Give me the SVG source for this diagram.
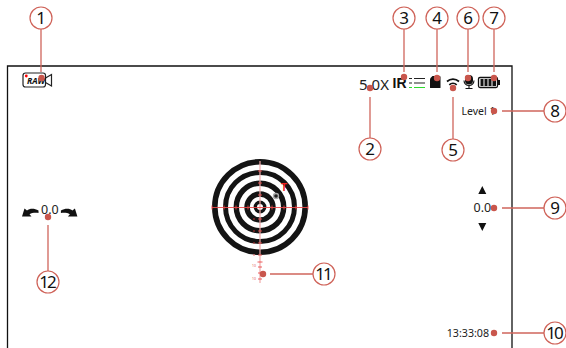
<svg xmlns="http://www.w3.org/2000/svg" width="566" height="348" viewBox="0 0 566 348">
<style>
.c{fill:#fff;stroke:#cf6258;stroke-width:1.2}
.n{font:17px "Noto Sans",Arial,sans-serif;fill:#111;text-anchor:middle}
.w{letter-spacing:-2px}
.l{stroke:#d0665c;stroke-width:1.3;fill:none}
.d{fill:#c9564c}
.t{font-family:"Noto Sans",Arial,sans-serif;fill:#222}
.r{fill:none;stroke:#141414}
.h{stroke:#ea4a4a;stroke-width:.9;fill:none}
.s{stroke:#f0a8a8;stroke-width:1.2;fill:none}
.k{fill:#111}
.m{font-family:"Noto Sans",sans-serif;font-size:3.5px;text-anchor:middle;fill:#e0605c}
</style>
<rect width="566" height="348" fill="#fff"/>
<path d="M7.500 348V66H512V348" fill="none" stroke="#111" stroke-width="1.300"/>
<g id="screen-icons">
<rect x="23" y="73" width="22.500" height="14" rx="2.500" fill="#fff" stroke="#222" stroke-width="1.200"/>
<path d="M45.500 78L51.500 74.500V86L45.500 82.500" fill="none" stroke="#222" stroke-width="1.200"/>
<circle cx="26.300" cy="76" r="1.400" fill="#f00"/>
<text x="27" y="84.300" font-size="8.500" font-weight="700" font-style="italic" class="t" style="fill:#111">RAW</text>
<text x="359" y="89.500" font-size="15" class="t">5.0X</text>
<text x="392.500" y="88" font-size="14" font-weight="700" font-family="Liberation Sans,sans-serif" fill="#111">IR</text>
<path d="M409 78.500h3M414 78.500h11M409 83h3M414 83h11" stroke="#222" stroke-width="1.200"/>
<path d="M409 87.500h3M414 87.500h11" stroke="#2ddc2d" stroke-width="1.200"/>
<path d="M430 79.500q0-1 1-2l1.500-1.500h7q1 0 1 1v10.500q0 .5-.5.500h-9.500q-.5 0-.5-.5z" class="k"/>
<path d="M447 81.500a9 9 0 0 1 12 0M449.300 84.800a5.500 5.500 0 0 1 7.400 0" fill="none" stroke="#111" stroke-width="1.700"/>
<circle cx="453" cy="88" r="1.500" class="k"/>
<rect x="465" y="75" width="8" height="9.500" rx="4" class="k"/>
<path d="M464 80.500a5 5 0 0 0 10 0M469 85.500v2.500M465.500 88.500h7" fill="none" stroke="#111" stroke-width="1.100"/>
<rect x="478.500" y="77.500" width="19" height="10" rx="1.500" fill="none" stroke="#111" stroke-width="1.300"/>
<path d="M480.500 79h3v7h-3zM484.500 79h3v7h-3zM488.500 79h3v7h-3zM492.500 79h3.500v7h-3.500zM498 80h2v5h-2z" class="k"/>
<text x="461.500" y="114.500" font-size="10.500" class="t">Level 1</text>
<path d="M482.300 186l4 8h-8zM482.300 231l-4-8h8z" class="k"/>
<text x="473.500" y="212" font-size="12.500" class="t">0.0</text>
<text x="446.700" y="336.700" font-size="10.700" class="t">13:33:08</text>
<text x="41" y="213.500" font-size="12.500" class="t">0.0</text>
<path d="M38.500 210.500C34 208 29.500 208.500 27 210.500L24.500 208.500L22 216.500H31.500L29.500 214.300C32 212.800 35 212.500 38.500 213Z" class="k"/>
<path d="M60.900 210.500C65.400 208 69.900 208.500 72.400 210.500L74.900 208.500L77.400 216.500H67.900L69.900 214.300C67.400 212.800 64.400 212.500 60.900 213Z" class="k"/>
</g>
<g id="target">
<circle cx="260" cy="207" r="48" fill="#fff"/>
<circle cx="260" cy="207" r="45.200" class="r" stroke-width="5.600"/>
<circle cx="260" cy="207" r="34.500" class="r" stroke-width="5"/>
<circle cx="260" cy="207" r="23.700" class="r" stroke-width="5.400"/>
<circle cx="260" cy="207" r="13" class="r" stroke-width="5.400"/>
<circle cx="260" cy="207" r="4.700" class="r" stroke-width="3.400"/>
<circle cx="276" cy="196" r="2.500" fill="#222" stroke="#aaa" stroke-width="1.400"/>
<text x="284" y="191" font-size="10" font-weight="700" text-anchor="middle" font-family="Liberation Sans,sans-serif" fill="#f02020">T</text>
<path d="M260 161V283" class="s"/>
<path d="M212 207.500H308" class="h"/>
<path d="M212 205.500v4M224 205.500v4M236 205.500v4M248 205.500v4M272 205.500v4M284 205.500v4M296 205.500v4M308 205.500v4" class="h"/>
<path d="M258 171h4M258 183h4M258 195h4M258 219h4M258 231h4M258 243h4M258 255h4M257.500 262h5M258 267h4M258 273h4M258 279h4" class="h"/>
<circle cx="254" cy="219" r=".8" fill="#c33"/><circle cx="254" cy="231" r=".8" fill="#c33"/><circle cx="254" cy="243" r=".8" fill="#c33"/><circle cx="254" cy="255" r=".8" fill="#e66"/>
<text class="m" x="254" y="267">10</text>
<text class="m" x="254" y="280">10</text>
</g>
<g id="connectors">
<path class="l" d="M41 29V72M370 97V138M404 29V72M437 29V72M468 29V72M494 29V72M453 97V139M502 111H544M502 208H544M502 333H544M270 274H313M48 225V271"/>
</g>
<g id="dots">
<circle class="d" cx="41.500" cy="78" r="3.200"/><circle class="d" cx="370" cy="88" r="3.200"/><circle class="d" cx="404" cy="77" r="3.200"/><circle class="d" cx="437" cy="78" r="3.200"/><circle class="d" cx="453" cy="88" r="3.200"/><circle class="d" cx="468" cy="78" r="3.200"/><circle class="d" cx="494" cy="78" r="3.200"/><circle class="d" cx="494" cy="111" r="3.200"/><circle class="d" cx="494" cy="208" r="3.200"/><circle class="d" cx="494" cy="333" r="3.200"/><circle class="d" cx="263" cy="274" r="3.200"/><circle class="d" cx="48" cy="217" r="3.200"/>
</g>
<g id="n1"><circle class="c" cx="41" cy="18" r="11"/><text class="n" x="41" y="24">1</text></g>
<g id="n2"><circle class="c" cx="370" cy="149" r="11"/><text class="n" x="370" y="155">2</text></g>
<g id="n3"><circle class="c" cx="404" cy="18" r="11"/><text class="n" x="404" y="24">3</text></g>
<g id="n4"><circle class="c" cx="437" cy="18" r="11"/><text class="n" x="437" y="24">4</text></g>
<g id="n5"><circle class="c" cx="453" cy="150" r="11"/><text class="n" x="453" y="156">5</text></g>
<g id="n6"><circle class="c" cx="468" cy="18" r="11"/><text class="n" x="468" y="24">6</text></g>
<g id="n7"><circle class="c" cx="494" cy="18" r="11"/><text class="n" x="494" y="24">7</text></g>
<g id="n8"><circle class="c" cx="555" cy="111" r="11"/><text class="n" x="555" y="117">8</text></g>
<g id="n9"><circle class="c" cx="555" cy="208" r="11"/><text class="n" x="555" y="214">9</text></g>
<g id="n10"><circle class="c" cx="555" cy="333" r="11"/><text class="n w" x="554" y="339">10</text></g>
<g id="n11"><circle class="c" cx="324" cy="274" r="11"/><text class="n w" x="323" y="280">11</text></g>
<g id="n12"><circle class="c" cx="48" cy="282" r="11"/><text class="n w" x="47" y="288">12</text></g>
</svg>
